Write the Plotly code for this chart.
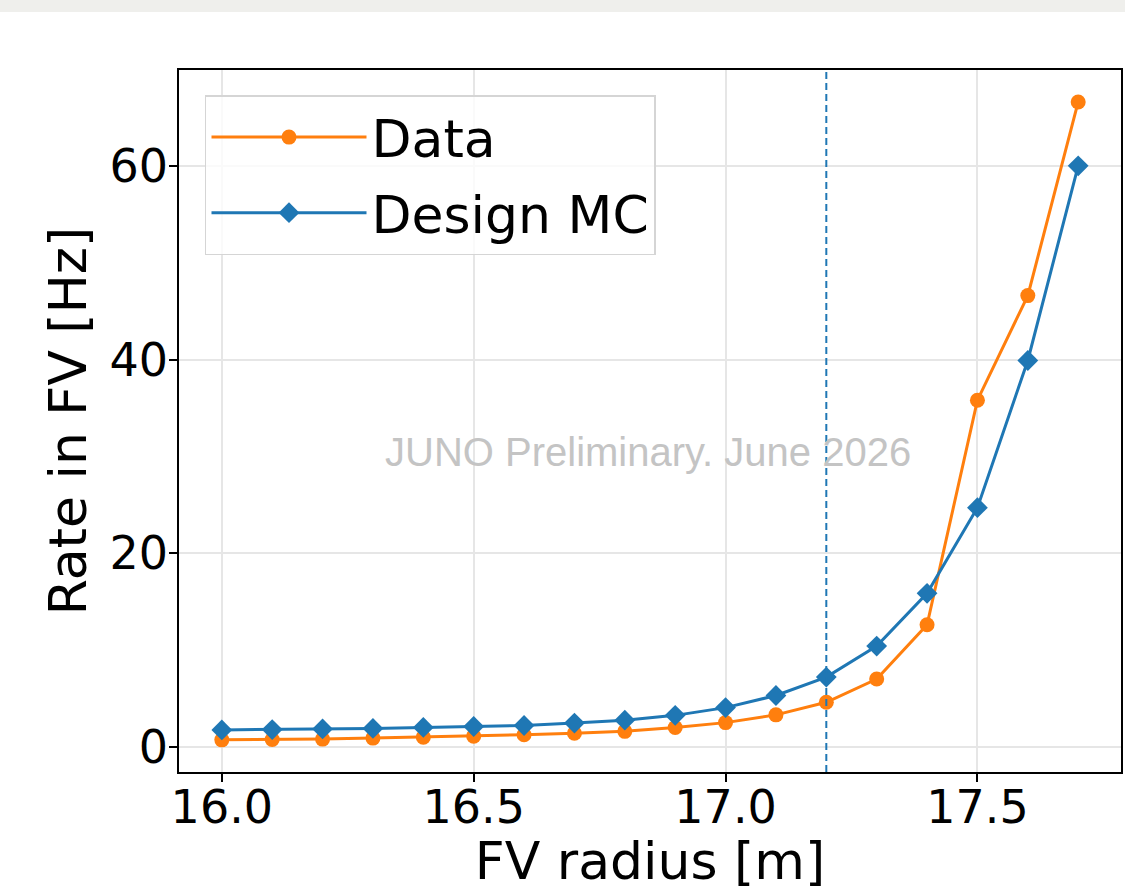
import plotly.graph_objects as go

radius = [16.0, 16.1, 16.2, 16.3, 16.4, 16.5, 16.6, 16.7, 16.8, 16.9,
          17.0, 17.1, 17.2, 17.3, 17.4, 17.5, 17.6, 17.7]
rate_data = [0.72, 0.75, 0.8, 0.9, 1.0, 1.1, 1.25, 1.4, 1.6, 2.0,
             2.5, 3.3, 4.6, 7.0, 12.6, 35.8, 46.6, 66.6]
rate_mc = [1.75, 1.78, 1.85, 1.9, 2.0, 2.1, 2.2, 2.45, 2.75, 3.25,
           4.05, 5.3, 7.2, 10.4, 15.85, 24.7, 39.9, 60.0]
fv_cut = 17.2
x_ticks = [16.0, 16.5, 17.0, 17.5]
y_ticks = [0, 20, 40, 60]
watermark = "JUNO Preliminary. June 2026"

ORANGE = "#ff7f0e"
BLUE = "#1f77b4"
FONT = "DejaVu Sans"

fig = go.Figure()
fig.add_trace(go.Scatter(
    x=radius, y=rate_data, name="Data", mode="lines+markers",
    legendgroup="a",
    line=dict(color=ORANGE, width=3),
    marker=dict(symbol="circle", size=15, color=ORANGE),
))
fig.add_trace(go.Scatter(
    x=radius, y=rate_mc, name="Design MC", mode="lines+markers",
    legendgroup="b",
    line=dict(color=BLUE, width=3),
    marker=dict(symbol="diamond", size=16, color=BLUE),
))

fig.add_vline(x=fv_cut, line=dict(color=BLUE, width=2, dash="7px,4px"))

fig.add_annotation(
    text=watermark, xref="paper", yref="paper", x=0.498, y=0.456,
    showarrow=False, xanchor="center", yanchor="middle",
    font=dict(family="Liberation Sans", size=40, color="#c4c4c4"),
)

# light band at the very top of the picture
fig.add_shape(type="rect", xref="paper", yref="paper",
              x0=-0.2, x1=1.01, y0=1.0826, y1=1.11,
              fillcolor="#efefec", line=dict(width=0), layer="below")

axis_common = dict(
    showline=True, mirror=True, linecolor="black", linewidth=1.5,
    ticks="outside", ticklen=8, tickwidth=1.5, tickcolor="black",
    showgrid=True, gridcolor="#e6e6e6", gridwidth=1.5,
    zeroline=False, automargin=False,
    tickfont=dict(family=FONT, size=46, color="black"),
)

fig.update_layout(
    width=1125, height=891,
    margin=dict(l=179, r=4, t=70, b=119, autoexpand=False),
    paper_bgcolor="white", plot_bgcolor="white",
    showlegend=True,
    legend=dict(
        x=0.0276, y=0.964, xanchor="left", yanchor="top",
        bgcolor="rgba(255,255,255,0.8)", bordercolor="#d5d5d5", borderwidth=1.5,
        font=dict(family=FONT, size=52, color="black"),
        itemwidth=155, tracegroupgap=5,
    ),
    xaxis=dict(
        range=[15.915, 17.785], tickvals=x_ticks,
        ticktext=[f"{v:.1f}" for v in x_ticks],
        ticklabelstandoff=-14,
        title=dict(text="FV radius [m]", font=dict(family=FONT, size=52, color="black"), standoff=4),
        **axis_common,
    ),
    yaxis=dict(
        range=[-2.6, 69.9], tickvals=y_ticks,
        ticktext=[str(v) for v in y_ticks],
        ticklabelstandoff=-8,
        title=dict(text="Rate in FV [Hz]", font=dict(family=FONT, size=52, color="black"), standoff=6),
        **axis_common,
    ),
)

fig.write_html("out.html", config={"displayModeBar": False},
               post_script="document.body.style.margin='0';document.body.style.overflow='hidden';")
